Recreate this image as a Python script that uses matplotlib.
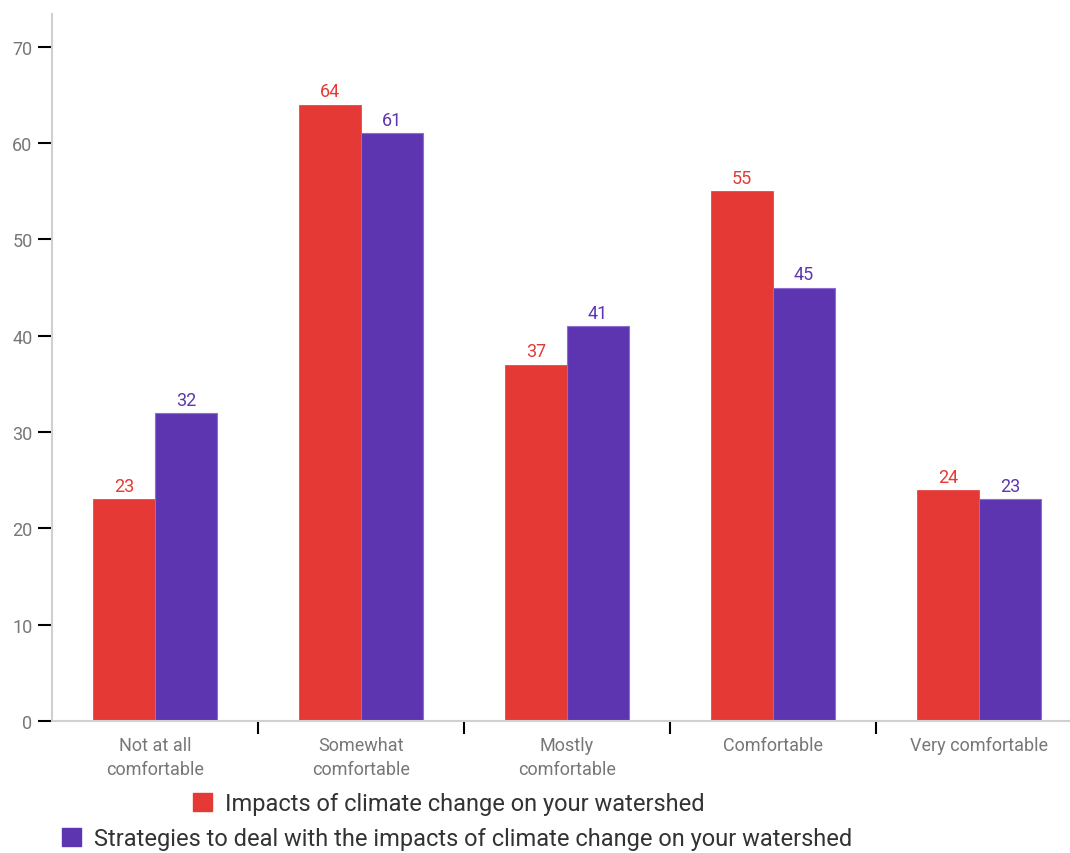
import matplotlib.pyplot as plt
import numpy as np
from matplotlib.patches import Patch

# ----------------------------
# Data
# ----------------------------
categories = ["Not at all\ncomfortable", "Somewhat\ncomfortable", "Mostly\ncomfortable",
              "Comfortable", "Very comfortable"]
impacts = [23, 64, 37, 55, 24]
strategies = [32, 61, 41, 45, 23]
series_names = ["Impacts of climate change on your watershed",
                "Strategies to deal with the impacts of climate change on your watershed"]

red = "#E53935"
purple = "#5E35B1"
label_gray = "#777777"

plt.rcParams["font.family"] = ["Roboto", "DejaVu Sans"]

fig = plt.figure(figsize=(10.70, 8.54), dpi=100)
ax = fig.add_axes([52 / 1070, 132 / 854, 1030 / 1070, 707 / 854])

x = np.arange(len(categories))
w = 0.3
b1 = ax.bar(x - w / 2, impacts, w, color=red, edgecolor=red, linewidth=0.5)
b2 = ax.bar(x + w / 2, strategies, w, color=purple, edgecolor="#8a6fd0", linewidth=0.8)

for bars, vals, c in [(b1, impacts, red), (b2, strategies, purple)]:
    for bar, v in zip(bars, vals):
        ax.annotate(str(v), (bar.get_x() + bar.get_width() / 2, v),
                    xytext=(0, 3), textcoords="offset points",
                    ha="center", va="bottom", color=c, fontsize=13)

ax.set_xlim(-0.5, 4.5)
ax.set_ylim(0, 73.4)
ax.set_yticks(range(0, 71, 10))
ax.tick_params(axis="y", length=10, width=1.5, color="black", labelcolor=label_gray,
               labelsize=13, pad=4)

# category labels at group centres, tick marks between groups
ax.set_xticks(x)
ax.set_xticklabels(categories, color=label_gray, fontsize=13, linespacing=1.4)
ax.tick_params(axis="x", length=0, pad=11)
ax.set_xticks(x[:-1] + 0.5, minor=True)
ax.tick_params(axis="x", which="minor", length=9, width=1.5, color="black")

for s in ["top", "right"]:
    ax.spines[s].set_visible(False)
for s in ["left", "bottom"]:
    ax.spines[s].set_color("#d0d0d0")
    ax.spines[s].set_linewidth(1.5)

# one legend row per series, placed by the left edge of its swatch
legend_kw = dict(loc="center left", frameon=False, fontsize=17, handlelength=0.8,
                 handleheight=0.8, handletextpad=0.55, borderpad=0, borderaxespad=0,
                 labelcolor="#333333")
fig.legend(handles=[Patch(color=red)], labels=[series_names[0]],
           bbox_to_anchor=(193 / 1070, 1 - 805 / 854), **legend_kw)
fig.legend(handles=[Patch(color=purple)], labels=[series_names[1]],
           bbox_to_anchor=(62 / 1070, 1 - 840 / 854), **legend_kw)

fig.savefig("out.png", dpi=100)
plt.close(fig)
